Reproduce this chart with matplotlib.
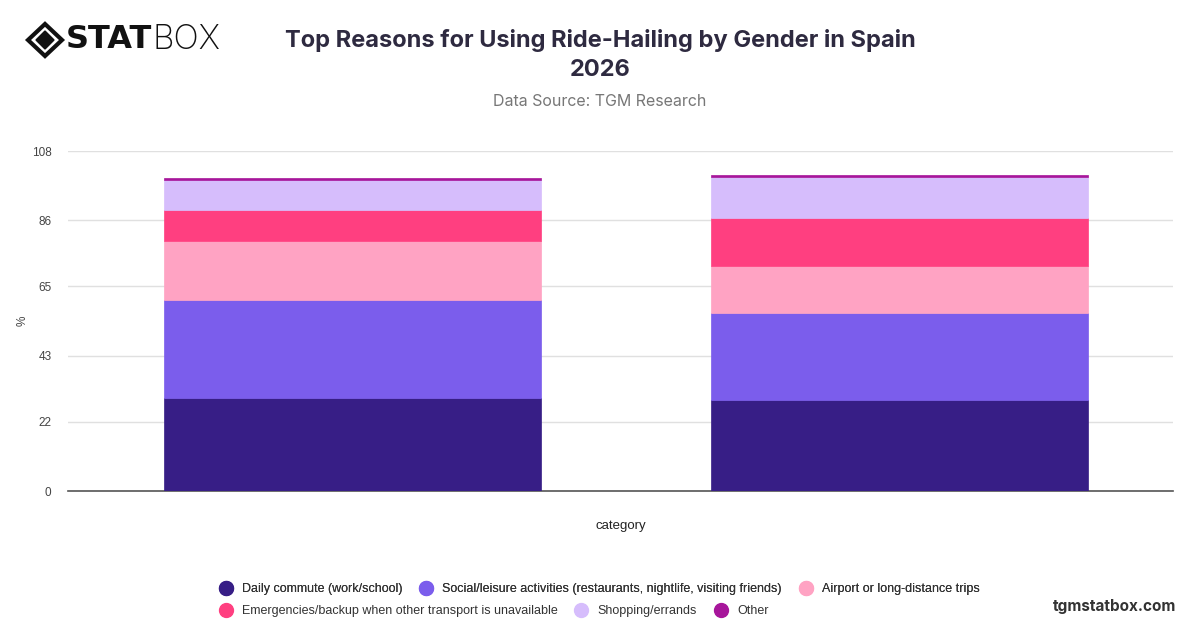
import matplotlib.pyplot as plt
from matplotlib.lines import Line2D
from matplotlib.patches import Polygon

# Data
categories = ["Female", "Male"]
reasons = [
    "Daily commute (work/school)",
    "Social/leisure activities (restaurants, nightlife, visiting friends)",
    "Airport or long-distance trips",
    "Emergencies/backup when other transport is unavailable",
    "Shopping/errands",
    "Other",
]
commute = [29.7, 29.0]
social = [31.0, 27.4]
airport = [18.6, 15.2]
emergencies = [10.1, 15.1]
shopping = [9.5, 12.9]
other = [0.5, 0.8]
yticks = [0, 22, 43, 65, 86, 108]

colors = ["#371e86", "#7b5dec", "#ffa3c3", "#ff3f80", "#d6bdfc", "#a7169b"]
series = [commute, social, airport, emergencies, shopping, other]

plt.rcParams['font.family'] = ['Liberation Sans', 'DejaVu Sans']

fig = plt.figure(figsize=(12, 6.28), dpi=100)
ax = fig.add_axes([68 / 1200, 1 - 491 / 628, 1105 / 1200, 340 / 628])

x = range(len(categories))
bottom = [0, 0]
for vals, col, lab in zip(series, colors, reasons):
    ax.bar(x, vals, width=0.69, bottom=bottom, color=col, label=lab,
           edgecolor=col, linewidth=0.5, zorder=3)
    bottom = [b + v for b, v in zip(bottom, vals)]

ax.set_xlim(-0.52, 1.5)
ax.set_ylim(0, 108)
ax.set_yticks(yticks)
ax.set_yticklabels([str(t) for t in yticks], fontsize=8.5, color="#444444")
ax.set_xticks([])
ax.grid(axis='y', color="#e0e0e0", linewidth=1, zorder=0)
for s in ["top", "right", "left"]:
    ax.spines[s].set_visible(False)
ax.spines["bottom"].set_color("#555555")
ax.spines["bottom"].set_linewidth(1.2)
ax.tick_params(axis='y', length=0, pad=12)
ax.set_ylabel("%", fontsize=8.5, color="#444444")
ax.yaxis.set_label_coords(-0.036, 0.5)
ax.set_xlabel("category", fontsize=9.5, color="#222222")
ax.xaxis.set_label_coords(0.5, -0.085)

# Title and subtitle
fig.text(0.5, 1 - 40 / 628, "Top Reasons for Using Ride-Hailing by Gender in Spain",
         ha='center', va='center', fontsize=17, fontweight='bold', color="#2e2a40",
         family=['Inter', 'DejaVu Sans'])
fig.text(0.5, 1 - 70 / 628, "2026",
         ha='center', va='center', fontsize=17, fontweight='bold', color="#2e2a40",
         family=['Inter', 'DejaVu Sans'])
fig.text(0.5, 1 - 101 / 628, "Data Source: TGM Research", ha='center', va='center',
         fontsize=11.5, color="#777777", family=['Inter', 'DejaVu Sans'])

# Logo
outer = Polygon([(28 / 1200, 1 - 40 / 628), (45 / 1200, 1 - 24 / 628),
                 (62 / 1200, 1 - 40 / 628), (45 / 1200, 1 - 56 / 628)],
                closed=True, fill=False, edgecolor="#111111", linewidth=3,
                transform=fig.transFigure)
inner = Polygon([(36 / 1200, 1 - 40 / 628), (45 / 1200, 1 - 31 / 628),
                 (54 / 1200, 1 - 40 / 628), (45 / 1200, 1 - 49 / 628)],
                closed=True, color="#111111", transform=fig.transFigure)
fig.patches.extend([outer, inner])
fig.text(66 / 1200, 1 - 40 / 628, "STAT", ha='left', va='center', fontsize=23,
         fontweight='heavy', color="#111111", family=['DejaVu Sans'])
fig.text(153 / 1200, 1 - 40 / 628, "BOX", ha='left', va='center', fontsize=24,
         fontweight='light', color="#111111", family=['Inter', 'DejaVu Sans'])

# Legend
handles = [Line2D([], [], marker='o', linestyle='', markersize=10,
                  markerfacecolor=c, markeredgecolor=c) for c in colors]
leg1 = fig.legend(handles[:3], reasons[:3], loc='center left',
                  bbox_to_anchor=(208 / 1200, 1 - 589 / 628), ncol=3, frameon=False,
                  fontsize=9, handletextpad=0.3, columnspacing=0.9, borderaxespad=0)
leg2 = fig.legend(handles[3:], reasons[3:], loc='center left',
                  bbox_to_anchor=(208 / 1200, 1 - 611 / 628), ncol=3, frameon=False,
                  fontsize=9, handletextpad=0.3, columnspacing=0.9, borderaxespad=0)
fig.add_artist(leg1)
for leg in (leg1, leg2):
    for t in leg.get_texts():
        t.set_color("#333333")

fig.text(1176 / 1200, 1 - 606 / 628, "tgmstatbox.com", ha='right', va='center',
         fontsize=11, fontweight='bold', color="#333333", family=['Inter', 'DejaVu Sans'])

fig.savefig("out.png", dpi=100, facecolor="white")
